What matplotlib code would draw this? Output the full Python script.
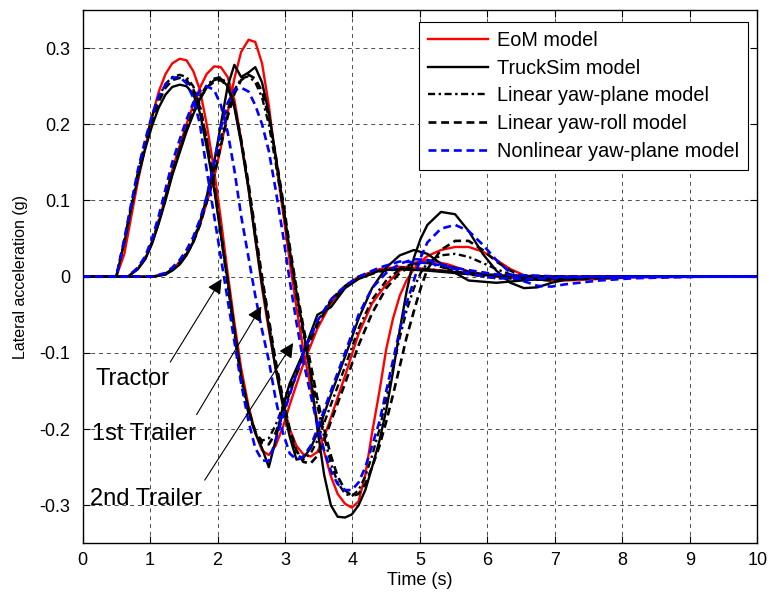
import matplotlib.pyplot as plt
import numpy as np

# Zeitachsen (s) je Fahrzeugteil
t_tractor = [0, 0.5, 0.62, 0.72, 0.82, 0.93, 1.03, 1.13, 1.23, 1.33, 1.44, 1.54, 1.64, 1.74, 1.84, 1.95, 2.05, 2.15, 2.25, 2.35,
             2.46, 2.56, 2.66, 2.76, 2.86, 2.97, 3.07, 3.27, 3.48, 3.68, 3.89, 4.09, 4.4, 4.7, 5.11, 5.62, 6.13, 7.15, 10]
t_trailer1 = [0, 0.67, 0.82, 0.93, 1.03, 1.13, 1.23, 1.33, 1.44, 1.54, 1.64, 1.74, 1.84, 1.95, 2.05, 2.15, 2.25, 2.35, 2.46, 2.56,
              2.66, 2.76, 2.86, 2.97, 3.07, 3.17, 3.27, 3.38, 3.48, 3.58, 3.68, 3.89, 4.09, 4.29, 4.5, 4.7, 4.91, 5.11, 5.42, 5.72,
              6.13, 6.64, 7.15, 8.17, 10]
t_trailer2 = [0, 1.03, 1.23, 1.33, 1.44, 1.54, 1.64, 1.74, 1.84, 1.95, 2.05, 2.15, 2.25, 2.35, 2.46, 2.56, 2.66, 2.76, 2.86, 2.97,
              3.07, 3.17, 3.27, 3.38, 3.48, 3.58, 3.68, 3.78, 3.89, 3.99, 4.09, 4.19, 4.29, 4.4, 4.5, 4.6, 4.7, 4.8, 4.91, 5.01,
              5.11, 5.31, 5.52, 5.72, 5.93, 6.13, 6.34, 6.54, 6.74, 6.95, 7.15, 7.66, 8.17, 9.19, 10]

# Querbeschleunigung (g) - Tractor
eom_tractor = [0, 0, .03, .078, .125, .17, .21, .243, .266, .28, .286, .284, .27, .245, .2, .14, .075, .005, -.06, -.12,
               -.17, -.205, -.228, -.234, -.222, -.197, -.168, -.115, -.068, -.035, -.013, 0, .01, .013, .01, .005, .002, 0, 0]
ts_tractor = [0, 0, .045, .09, .13, .168, .198, .222, .239, .249, .252, .25, .24, .215, .17, .115, .055, -.005, -.07, -.13,
              -.175, -.205, -.225, -.25, -.215, -.17, -.14, -.1, -.05, -.04, -.015, -.003, .008, .01, .008, .004, .001, 0, 0]
lyp_tractor = [0, 0, .048, .093, .137, .177, .21, .236, .253, .262, .265, .262, .25, .225, .18, .12, .055, -.01, -.075, -.135,
               -.18, -.205, -.215, -.212, -.195, -.17, -.145, -.1, -.06, -.03, -.012, 0, .008, .012, .01, .005, .002, 0, 0]
lyr_tractor = [0, 0, .046, .09, .133, .172, .205, .23, .248, .258, .261, .258, .246, .222, .18, .122, .058, -.005, -.07, -.13,
               -.175, -.203, -.218, -.22, -.205, -.18, -.152, -.105, -.063, -.032, -.013, -.002, .007, .01, .009, .005, .002, 0, 0]
nyp_tractor = [0, 0, .05, .095, .14, .18, .212, .237, .252, .261, .262, .254, .235, .2, .14, .08, .025, -.03, -.085, -.14,
               -.19, -.225, -.241, -.242, -.215, -.183, -.155, -.1, -.058, -.03, -.012, 0, .012, .02, .018, .01, .003, 0, 0]

# 1st Trailer
eom_trailer1 = [0, 0, .01, .024, .045, .073, .105, .14, .172, .2, .225, .248, .266, .276, .275, .262, .232, .18, .115, .05,
                -.015, -.07, -.12, -.165, -.2, -.222, -.233, -.236, -.23, -.21, -.185, -.13, -.075, -.035, -.01, .008, .018, .022, .016, .007,
                0, -.003, -.002, 0, 0]
ts_trailer1 = [0, 0, .01, .023, .043, .07, .1, .133, .163, .19, .213, .233, .248, .258, .26, .25, .222, .175, .115, .05,
               -.01, -.065, -.12, -.17, -.21, -.24, -.238, -.225, -.205, -.18, -.155, -.105, -.055, -.015, .012, .028, .035, .03, .01, -.005,
               -.008, -.004, -.001, 0, 0]
lyp_trailer1 = [0, 0, .011, .025, .046, .074, .105, .138, .168, .195, .218, .237, .251, .26, .262, .252, .225, .178, .118, .055,
                -.005, -.06, -.115, -.165, -.205, -.232, -.24, -.232, -.215, -.192, -.168, -.118, -.068, -.03, -.005, .01, .018, .018, .01, .003,
                -.002, -.003, -.001, 0, 0]
lyr_trailer1 = [0, 0, .011, .024, .045, .072, .103, .136, .166, .193, .215, .234, .248, .256, .258, .25, .225, .18, .122, .06,
                0, -.055, -.11, -.16, -.2, -.228, -.243, -.245, -.235, -.215, -.19, -.14, -.09, -.048, -.015, .005, .016, .02, .014, .006,
                0, -.003, -.002, 0, 0]
nyp_trailer1 = [0, 0, .012, .027, .05, .08, .115, .15, .18, .206, .228, .244, .25, .245, .225, .19, .14, .08, .025, -.025,
                -.07, -.11, -.16, -.205, -.232, -.24, -.236, -.222, -.2, -.175, -.15, -.1, -.05, -.015, .005, .017, .023, .022, .013, .004,
                -.002, -.003, -.001, 0, 0]

# 2nd Trailer
eom_trailer2 = [0, 0, .004, .01, .019, .03, .046, .068, .097, .13, .17, .215, .26, .295, .311, .308, .28, .225, .155, .085,
                .02, -.04, -.095, -.145, -.19, -.23, -.262, -.285, -.298, -.303, -.295, -.26, -.205, -.15, -.095, -.055, -.025, -.005, .01, .02,
                .027, .035, .039, .039, .033, .022, .01, .002, -.003, -.005, -.005, -.003, -.001, 0, 0]
ts_trailer2 = [0, 0, .003, .008, .016, .028, .045, .07, .105, .15, .2, .25, .278, .262, .268, .275, .255, .215, .16, .095,
               .035, -.02, -.07, -.13, -.2, -.26, -.3, -.315, -.316, -.312, -.3, -.28, -.25, -.215, -.175, -.125, -.07, -.02, .025, .05,
               .068, .085, .082, .06, .03, .008, -.008, -.015, -.014, -.008, -.004, -.001, 0, 0, 0]
lyp_trailer2 = [0, 0, .004, .01, .019, .031, .048, .072, .103, .14, .18, .218, .245, .26, .263, .255, .235, .2, .15, .09,
                .03, -.025, -.075, -.125, -.17, -.21, -.245, -.27, -.285, -.288, -.28, -.262, -.235, -.2, -.16, -.12, -.08, -.045, -.015, .005,
                .018, .028, .03, .026, .018, .01, .003, -.002, -.004, -.004, -.003, -.001, 0, 0, 0]
lyr_trailer2 = [0, 0, .003, .009, .017, .029, .045, .068, .098, .133, .172, .21, .24, .258, .265, .26, .243, .21, .16, .1,
                .04, -.015, -.065, -.115, -.16, -.2, -.235, -.262, -.28, -.288, -.285, -.272, -.25, -.222, -.19, -.155, -.118, -.08, -.045, -.015,
                .01, .035, .047, .047, .035, .02, .008, 0, -.004, -.005, -.004, -.002, 0, 0, 0]
nyp_trailer2 = [0, 0, .005, .012, .022, .035, .052, .075, .105, .15, .195, .228, .245, .248, .243, .225, .2, .165, .115, .055,
                -.005, -.06, -.11, -.155, -.195, -.228, -.255, -.272, -.28, -.28, -.27, -.25, -.222, -.19, -.15, -.11, -.07, -.035, -.005, .025,
                .045, .063, .068, .06, .042, .022, .005, -.006, -.012, -.013, -.01, -.005, -.002, 0, 0]

Zeiten = [t_tractor, t_trailer1, t_trailer2]
Modelle = ['EoM model', 'TruckSim model', 'Linear yaw-plane model', 'Linear yaw-roll model', 'Nonlinear yaw-plane model']
Werte = [[eom_tractor, eom_trailer1, eom_trailer2],
         [ts_tractor, ts_trailer1, ts_trailer2],
         [lyp_tractor, lyp_trailer1, lyp_trailer2],
         [lyr_tractor, lyr_trailer1, lyr_trailer2],
         [nyp_tractor, nyp_trailer1, nyp_trailer2]]
Stile = [dict(color='red', lw=1.7, ls='-'),
         dict(color='black', lw=1.7, ls='-'),
         dict(color='black', lw=1.7, ls=(0, (3, 1.5, 1, 1.5))),
         dict(color='black', lw=1.9, ls=(0, (3, 1.8))),
         dict(color='blue', lw=1.9, ls=(0, (3, 1.8)))]

xticks = [0, 1, 2, 3, 4, 5, 6, 7, 8, 9, 10]
yticks = [-0.3, -0.2, -0.1, 0, 0.1, 0.2, 0.3]
ytick_labels = ['-0.3', '-0.2', '-0.1', '0', '0.1', '0.2', '0.3']

schrift = ['Liberation Sans', 'DejaVu Sans']

fig = plt.figure(figsize=(7.69, 5.98), dpi=100)
ax = fig.add_axes([0.1073, 0.0913, 0.8777, 0.892])

for name, kurven, stil in zip(Modelle, Werte, Stile):
    for i, (t, a) in enumerate(zip(Zeiten, kurven)):
        ax.plot(t, a, label=name if i == 0 else None, **stil)

ax.set_xlim(0, 10)
ax.set_ylim(-0.35, 0.35)
ax.set_xticks(xticks)
ax.set_xticklabels([str(x) for x in xticks], family=schrift, fontsize=13)
ax.set_yticks(yticks)
ax.set_yticklabels(ytick_labels, family=schrift, fontsize=13)
ax.tick_params(direction='in', top=True, right=True, length=5, width=0.8)
ax.tick_params(axis='y', pad=9)
ax.tick_params(axis='x', pad=6)
for s in ax.spines.values():
    s.set_linewidth(1.0)
ax.grid(True, color='0.3', lw=0.7, ls=(0, (4, 4)))

ax.set_xlabel('Time (s)', family=schrift, fontsize=13, labelpad=2)
ax.set_ylabel('Lateral acceleration (g)', family=schrift, fontsize=11.5, labelpad=8)

# Beschriftung der Fahrzeugteile mit Pfeilen
ax.text(0.185, -0.142, 'Tractor', family=schrift, fontsize=17, va='baseline')
ax.text(0.14, -0.214, '1st Trailer', family=schrift, fontsize=17, va='baseline')
ax.text(0.11, -0.300, '2nd Trailer', family=schrift, fontsize=17, va='baseline')
pfeil = dict(arrowstyle='-|>', color='black', lw=0.8, mutation_scale=22, shrinkA=0, shrinkB=0)
ax.annotate('', xy=(2.06, -0.003), xytext=(1.30, -0.112), arrowprops=pfeil)
ax.annotate('', xy=(2.65, -0.039), xytext=(1.69, -0.181), arrowprops=pfeil)
ax.annotate('', xy=(3.12, -0.087), xytext=(1.81, -0.267), arrowprops=pfeil)

leg = ax.legend(loc='upper right', bbox_to_anchor=(0.986, 0.9775), borderaxespad=0, fancybox=False,
                edgecolor='black', framealpha=1, handlelength=3.0, handletextpad=0.45, labelspacing=0.44,
                borderpad=0.45, prop={'family': schrift, 'size': 14.3})
leg.get_frame().set_linewidth(0.8)

fig.savefig('out.png', dpi=100)
